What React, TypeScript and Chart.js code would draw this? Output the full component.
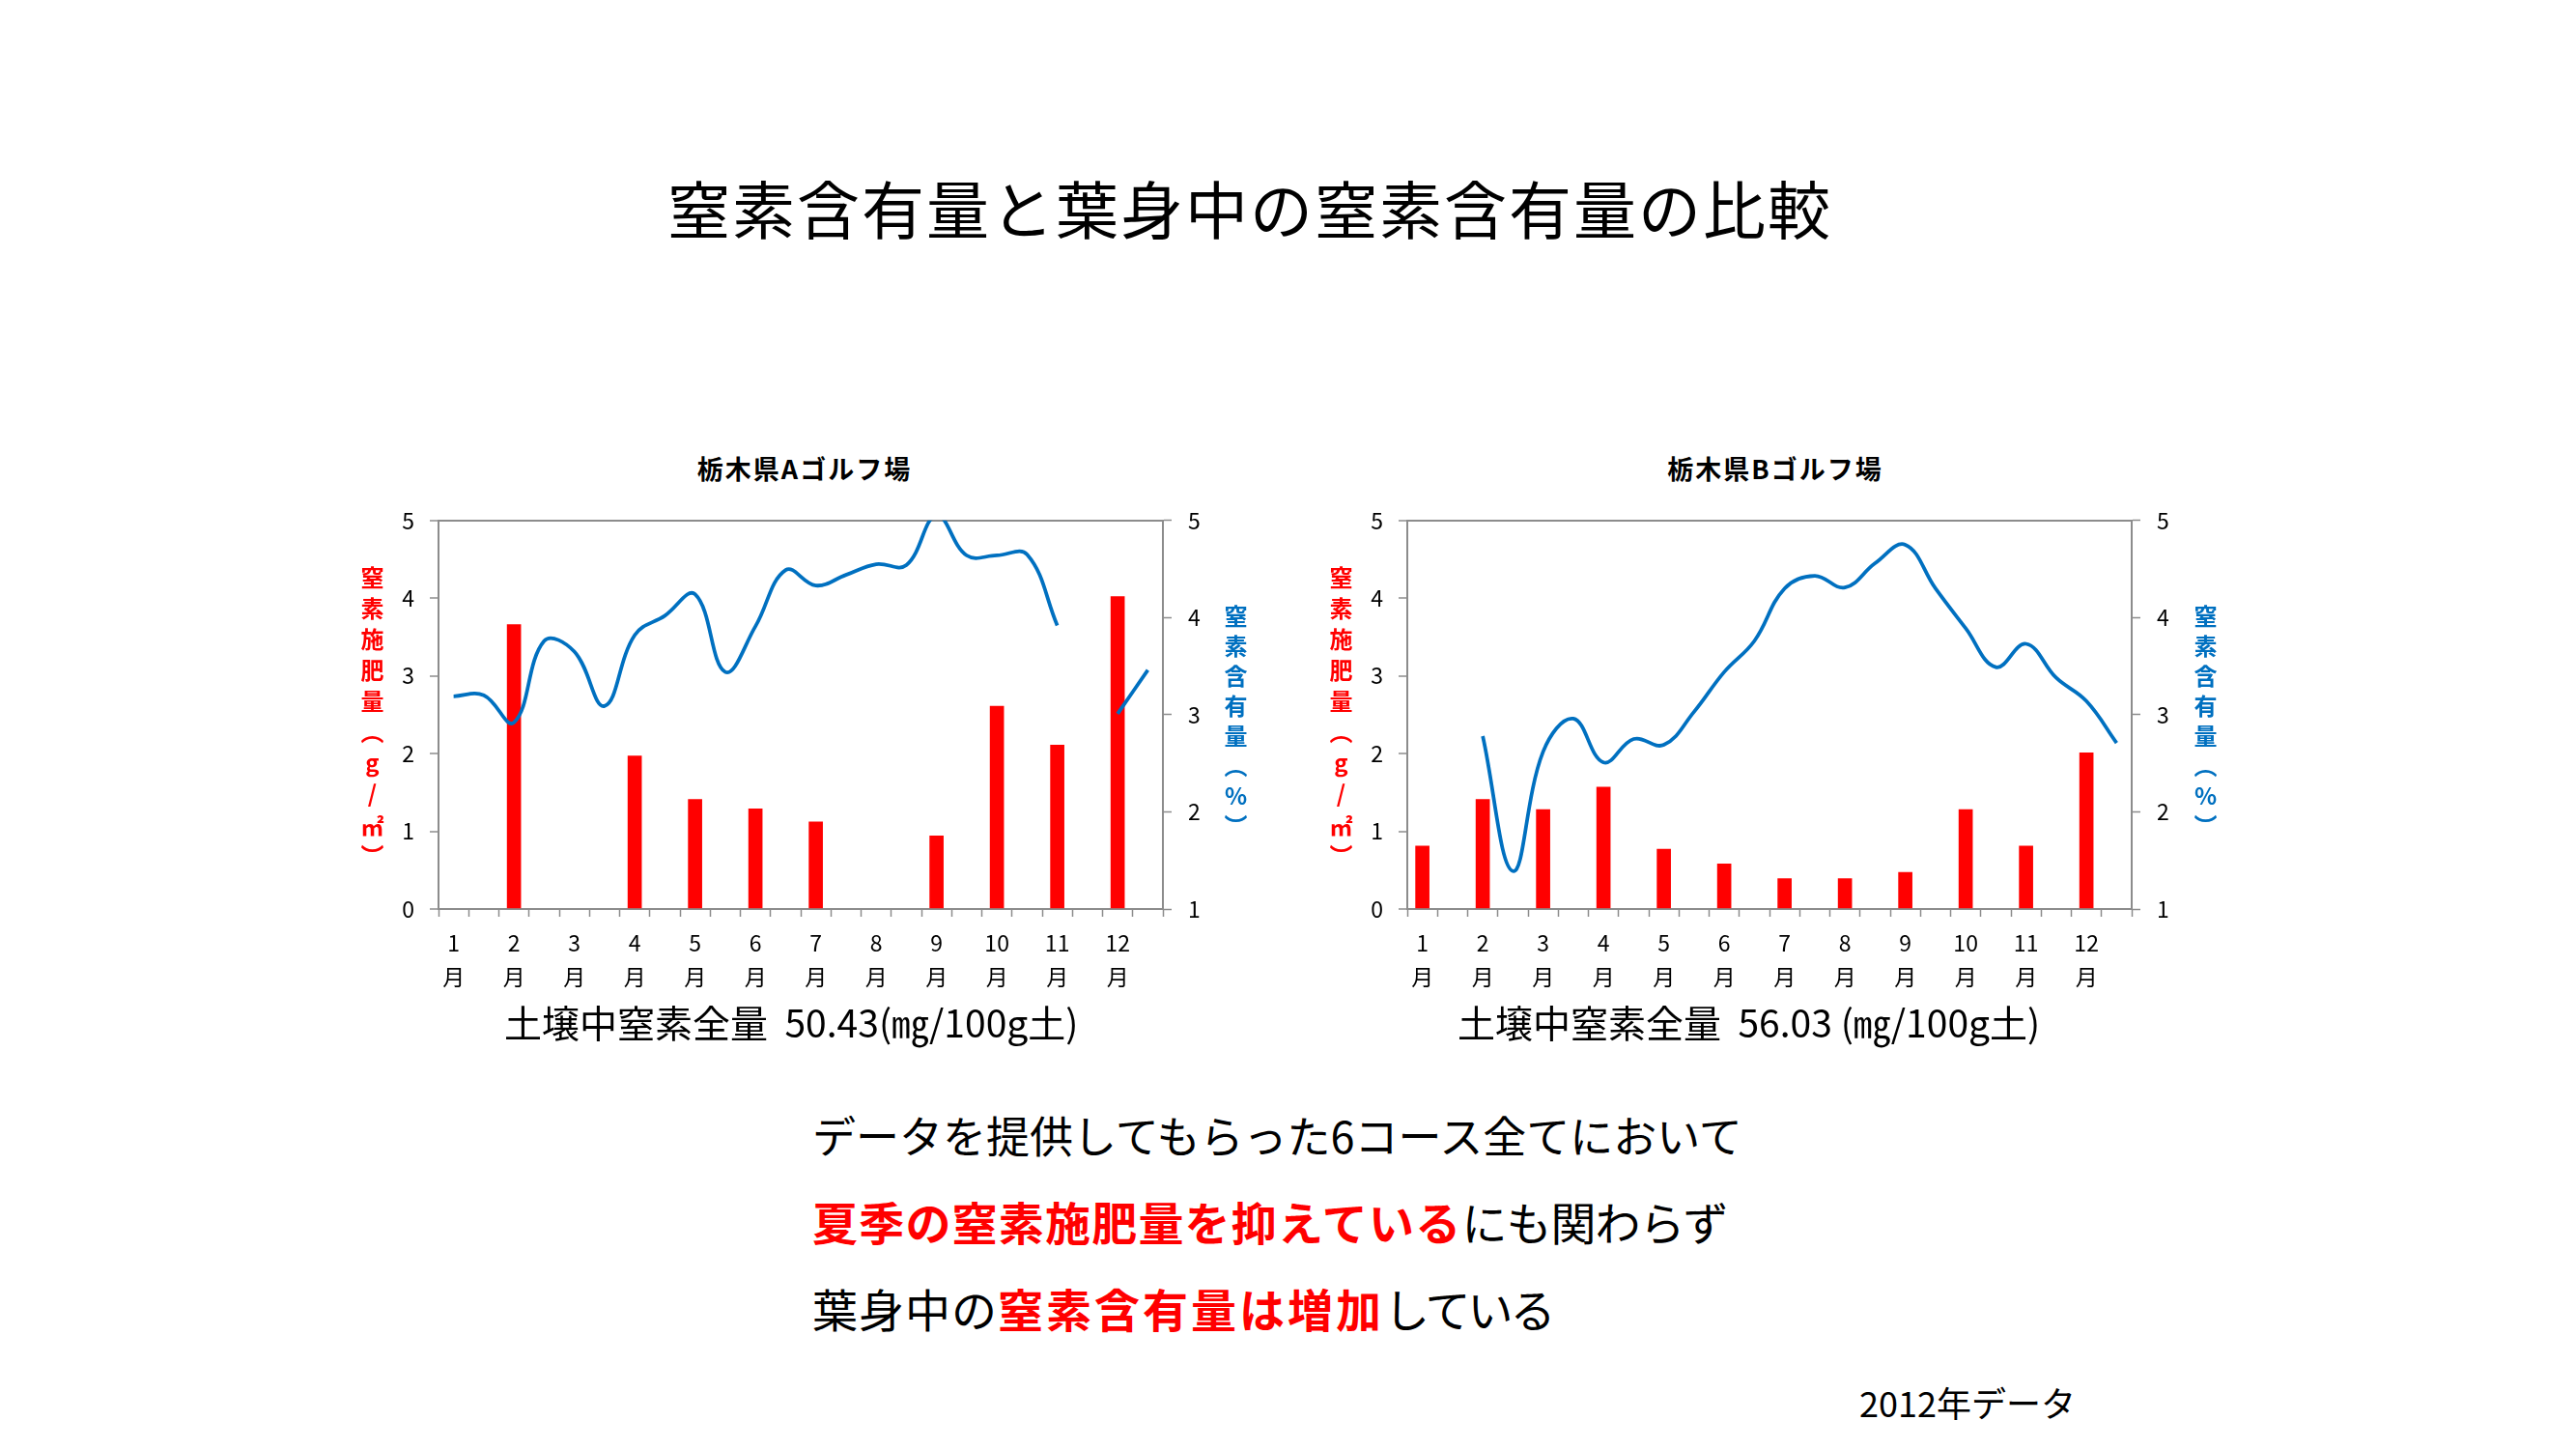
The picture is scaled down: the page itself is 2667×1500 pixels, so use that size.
import React, { useEffect, useRef } from 'react';
import { Chart, registerables } from 'chart.js';

Chart.register(...registerables);

const FONT = "'Noto Sans CJK JP', 'Noto Sans', sans-serif";
const GRAY = '#8c8c8c';
const RED = '#FF0000';
const BLUE = '#0070C0';

// Month tick labels (each month occupies two half-month slots)
const MONTHS = ['1', '2', '3', '4', '5', '6', '7', '8', '9', '10', '11', '12'];
const MONTH_SUFFIX = '月';
// Categories: half-month slots
const HALF_MONTH_SLOTS = MONTHS.flatMap((m) => [`${m}月前半`, `${m}月後半`]);

// 栃木県Aゴルフ場
const FERT_A: (number | null)[] = [null, 3.66, null, 1.97, 1.41, 1.29, 1.12, null, 0.94, 2.61, 2.11, 4.02];
const LEAF_N_A: (number | null)[] = [
  3.19, 3.2, 2.92, 3.76, 3.65, 3.09, 3.82, 4.02, 4.24, 3.44, 3.91, 4.49,
  4.33, 4.44, 4.55, 4.54, 5.05, 4.64, 4.64, 4.65, 3.92, null, 3.01, 3.46,
];
// 栃木県Bゴルフ場
const FERT_B: (number | null)[] = [0.81, 1.41, 1.28, 1.57, 0.77, 0.58, 0.39, 0.39, 0.47, 1.28, 0.81, 2.01];
const LEAF_N_B: (number | null)[] = [
  null, null, 2.78, 1.39, 2.62, 2.96, 2.51, 2.75, 2.69, 3.03, 3.44, 3.76,
  4.3, 4.43, 4.31, 4.56, 4.75, 4.3, 3.89, 3.49, 3.73, 3.38, 3.14, 2.71,
];

const LEFT_TICKS_MIN = 0;
const LEFT_TICKS_MAX = 5;
const RIGHT_TICKS_MIN = 1;
const RIGHT_TICKS_MAX = 5;

const toSlots = (monthly: (number | null)[]) =>
  HALF_MONTH_SLOTS.map((_, i) => (i % 2 === 0 ? monthly[i / 2] : null));

type GolfProps = { left: number; top: number; fert: (number | null)[]; leaf: (number | null)[] };

const CANVAS_W = 950;
const CANVAS_H = 523;

function GolfChart({ left, top, fert, leaf }: GolfProps) {
  const ref = useRef<HTMLCanvasElement | null>(null);
  useEffect(() => {
    if (!ref.current) return;
    const tickFont = { family: FONT, size: 23 };
    const chart = new Chart(ref.current, {
      type: 'bar',
      data: {
        labels: HALF_MONTH_SLOTS,
        datasets: [
          {
            type: 'line',
            label: '窒素含有量(%)',
            data: leaf,
            yAxisID: 'y1',
            borderColor: BLUE,
            backgroundColor: BLUE,
            borderWidth: 3.75,
            tension: 0.4,
            pointRadius: 0,
            spanGaps: false,
            fill: false,
            order: 0,
          } as any,
          {
            type: 'bar',
            label: '窒素施肥量(g/㎡)',
            data: toSlots(fert),
            yAxisID: 'y',
            backgroundColor: RED,
            barThickness: 14,
            order: 1,
          } as any,
        ],
      },
      options: {
        responsive: false,
        animation: false,
        layout: { padding: { top: 30, left: 0, right: 0, bottom: 0 } },
        plugins: { legend: { display: false }, tooltip: { enabled: false }, title: { display: false } },
        scales: {
          x: {
            type: 'category',
            offset: true,
            grid: {
              offset: true,
              drawOnChartArea: false,
              drawTicks: true,
              tickLength: 8,
              tickColor: GRAY,
              tickWidth: 1.5,
            },
            border: { display: true, color: GRAY, width: 2 },
            ticks: {
              autoSkip: false,
              maxRotation: 0,
              minRotation: 0,
              padding: 9,
              color: '#000',
              font: { family: FONT, size: 23, lineHeight: 1.55 },
              callback: (_v: any, idx: number) => (idx % 2 === 0 ? [MONTHS[idx / 2], MONTH_SUFFIX] : ''),
            },
            afterFit: (s: any) => {
              s.height = 90;
            },
          },
          y: {
            position: 'left',
            min: LEFT_TICKS_MIN,
            max: LEFT_TICKS_MAX,
            ticks: { stepSize: 1, padding: 16, color: '#000', font: tickFont },
            grid: {
              drawTicks: true,
              tickLength: 9,
              lineWidth: 2,
              tickWidth: 1.5,
              tickColor: GRAY,
              color: (c: any) => (c.tick && c.tick.value === LEFT_TICKS_MAX ? GRAY : 'rgba(0,0,0,0)'),
            },
            border: { display: true, color: GRAY, width: 2 },
            afterFit: (s: any) => {
              s.width = 100;
            },
          },
          y1: {
            position: 'right',
            min: RIGHT_TICKS_MIN,
            max: RIGHT_TICKS_MAX,
            ticks: { stepSize: 1, padding: 17, color: '#000', font: tickFont },
            grid: {
              drawOnChartArea: false,
              drawTicks: true,
              tickLength: 9,
              tickWidth: 1.5,
              tickColor: GRAY,
            },
            border: { display: true, color: GRAY, width: 2 },
            afterFit: (s: any) => {
              s.width = 100;
            },
          },
        },
      } as any,
    });
    return () => chart.destroy();
  }, [fert, leaf]);
  return (
    <canvas
      ref={ref}
      width={CANVAS_W}
      height={CANVAS_H}
      style={{ position: 'absolute', left, top, width: CANVAS_W, height: CANVAS_H }}
    />
  );
}

const abs = (extra: React.CSSProperties): React.CSSProperties => ({
  position: 'absolute',
  whiteSpace: 'pre',
  lineHeight: 1,
  fontFamily: FONT,
  ...extra,
});

function VTitle({ cx, cy, text, color, ls }: { cx: number; cy: number; text: string; color: string; ls: number }) {
  return (
    <div
      style={{
        position: 'absolute',
        left: cx - 15,
        top: cy,
        transform: 'translateY(-50%)',
        writingMode: 'vertical-rl',
        textOrientation: 'upright',
        fontFamily: FONT,
        fontWeight: 700,
        fontSize: 24,
        letterSpacing: ls,
        lineHeight: '30px',
        width: 30,
        color,
        whiteSpace: 'nowrap',
      }}
    >
      {text}
    </div>
  );
}

function Centered({ cx, cy, size, text, bold, ls }: { cx: number; cy: number; size: number; text: string; bold?: boolean; ls?: number }) {
  return (
    <div
      style={abs({
        left: cx,
        top: cy - 0.556 * size,
        transform: 'translateX(-50%)',
        fontSize: size,
        fontWeight: bold ? 700 : 400,
        letterSpacing: ls || 0,
        color: '#000',
      })}
    >
      {text}
    </div>
  );
}

const CAPTION_A = '土壌中窒素全量  50.43(㎎/100g土)';
const CAPTION_B = '土壌中窒素全量  56.03 (㎎/100g土)';

export default function App() {
  return (
    <div
      style={{
        position: 'absolute',
        left: 0,
        top: 0,
        width: 2667,
        height: 1500,
        background: '#fff',
        overflow: 'hidden',
        fontFamily: FONT,
      }}
    >
      <Centered cx={1294} cy={218.5} size={65} ls={2} text="窒素含有量と葉身中の窒素含有量の比較" />

      {/* Chart A */}
      <Centered cx={833} cy={486} size={27} bold ls={2} text="栃木県Aゴルフ場" />
      <GolfChart left={354} top={508} fert={FERT_A} leaf={LEAF_N_A} />
      <VTitle cx={385} cy={746} text="窒素施肥量（g/㎡）" color={RED} ls={8} />
      <VTitle cx={1279} cy={750} text="窒素含有量（%）" color={BLUE} ls={7} />
      <div style={abs({ left: 522, top: 1060 - 0.556 * 39, fontSize: 39, color: '#000' })}>{CAPTION_A}</div>

      {/* Chart B */}
      <Centered cx={1838} cy={486} size={27} bold ls={2} text="栃木県Bゴルフ場" />
      <GolfChart left={1357} top={508} fert={FERT_B} leaf={LEAF_N_B} />
      <VTitle cx={1388} cy={746} text="窒素施肥量（g/㎡）" color={RED} ls={8} />
      <VTitle cx={2283} cy={750} text="窒素含有量（%）" color={BLUE} ls={7} />
      <div style={abs({ left: 1509, top: 1060 - 0.556 * 39, fontSize: 39, color: '#000' })}>{CAPTION_B}</div>

      {/* Body text */}
      <div style={abs({ left: 841, top: 1177.5 - 0.556 * 45, fontSize: 45, color: '#000' })}>
        データを提供してもらった6コース全てにおいて
      </div>
      <div style={abs({ left: 841, top: 1266 - 0.556 * 47, fontSize: 47, color: '#000' })}>
        <span style={{ color: RED, fontWeight: 700, letterSpacing: 1.2 }}>夏季の窒素施肥量を抑えている</span>
        <span style={{ letterSpacing: -1 }}>にも関わらず</span>
      </div>
      <div style={abs({ left: 841, top: 1356 - 0.556 * 47, fontSize: 47, color: '#000' })}>
        <span style={{ letterSpacing: 1 }}>葉身中の</span>
        <span style={{ color: RED, fontWeight: 700, letterSpacing: 3 }}>窒素含有量は増加</span>
        <span style={{ letterSpacing: -3 }}>している</span>
      </div>
      <div style={abs({ left: 1925, top: 1453 - 0.556 * 36, fontSize: 36, color: '#000' })}>2012年データ</div>
    </div>
  );
}
